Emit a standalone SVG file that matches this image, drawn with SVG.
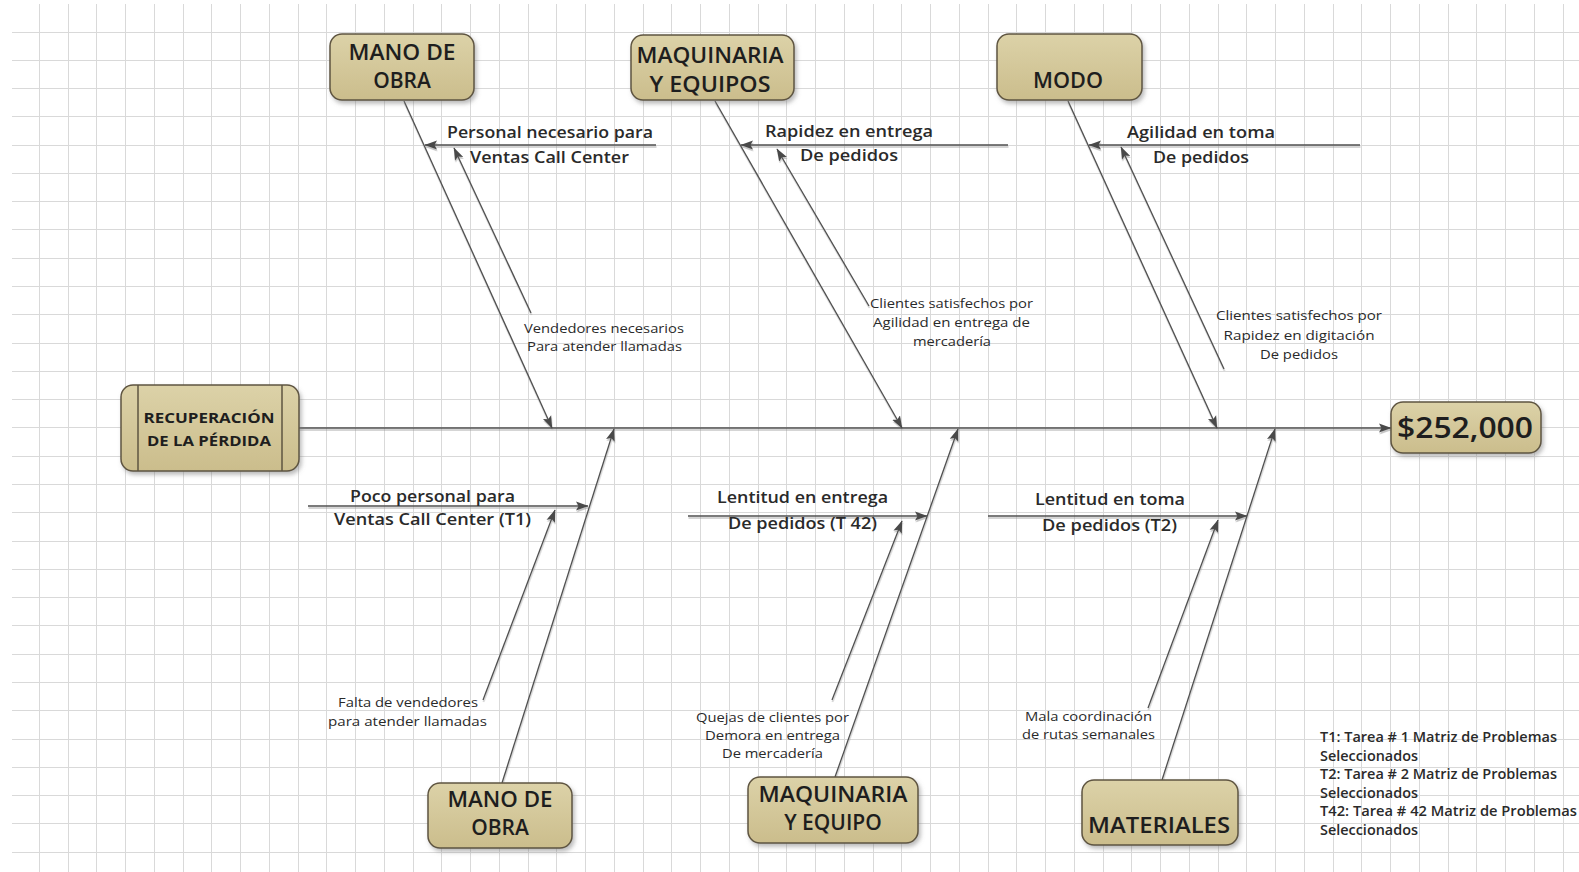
<svg xmlns="http://www.w3.org/2000/svg" width="1579" height="872" viewBox="0 0 1579 872">
<style>
.box{fill:url(#tan);stroke:#5e5440;stroke-width:1.5;filter:url(#bs)}
.bt{font-family:"Open Sans","Liberation Sans",sans-serif;font-weight:600;font-size:21px;fill:#1e1e1e;text-anchor:middle}
.ht{font-family:"Open Sans","Liberation Sans",sans-serif;font-weight:700;font-size:14.5px;fill:#1e1e1e;text-anchor:middle}
.mt{font-family:"Open Sans","Liberation Sans",sans-serif;font-weight:600;font-size:28px;fill:#1e1e1e;text-anchor:middle}
.ml{font-family:"Open Sans","Liberation Sans",sans-serif;font-weight:600;font-size:16px;fill:#2a2a2a;text-anchor:middle}
.sl{font-family:"Open Sans","Liberation Sans",sans-serif;font-weight:400;font-size:13px;fill:#2a2a2a;text-anchor:middle}
.lg{font-family:"Open Sans","Liberation Sans",sans-serif;font-weight:600;font-size:13.5px;fill:#2a2a2a}
.ln{stroke:#505050;stroke-width:1.3;fill:none;marker-end:url(#ah)}
.grid{stroke:#d9d9d9;stroke-width:1;fill:none}
</style>
<defs>
<linearGradient id="tan" x1="0" y1="0" x2="0" y2="1">
<stop offset="0" stop-color="#dcd2a8"/>
<stop offset="1" stop-color="#cbbd8c"/>
</linearGradient>
<filter id="bs" x="-10%" y="-10%" width="130%" height="140%">
<feDropShadow dx="2" dy="3" stdDeviation="2" flood-color="#777" flood-opacity="0.5"/>
</filter>
<filter id="ls" x="-5%" y="-5%" width="110%" height="110%">
<feDropShadow dx="0.5" dy="2" stdDeviation="0.6" flood-color="#999" flood-opacity="0.55"/>
</filter>
<marker id="ah" markerUnits="userSpaceOnUse" markerWidth="13" markerHeight="10" viewBox="0 0 13 10" refX="12" refY="5" orient="auto">
<path d="M0,0.5 L12.5,5 L0,9.5 L2.5,5 z" fill="#4a4a4a"/>
</marker>
</defs>
<rect x="0" y="0" width="1579" height="872" fill="#ffffff"/>
<g id="grid">
<path class="grid" d="M39.5 4V872M68.5 4V872M96.5 4V872M125.5 4V872M154.5 4V872M183.5 4V872M211.5 4V872M240.5 4V872M269.5 4V872M298.5 4V872M326.5 4V872M355.5 4V872M384.5 4V872M413.5 4V872M441.5 4V872M470.5 4V872M499.5 4V872M528.5 4V872M556.5 4V872M585.5 4V872M614.5 4V872M643.5 4V872M671.5 4V872M700.5 4V872M729.5 4V872M758.5 4V872M786.5 4V872M815.5 4V872M844.5 4V872M873.5 4V872M901.5 4V872M930.5 4V872M959.5 4V872M988.5 4V872M1016.5 4V872M1045.5 4V872M1074.5 4V872M1103.5 4V872M1131.5 4V872M1160.5 4V872M1189.5 4V872M1218.5 4V872M1246.5 4V872M1275.5 4V872M1304.5 4V872M1333.5 4V872M1361.5 4V872M1390.5 4V872M1419.5 4V872M1448.5 4V872M1476.5 4V872M1505.5 4V872M1534.5 4V872M1563.5 4V872"/>
<path class="grid" d="M12 32.5H1579M12 60.5H1579M12 88.5H1579M12 116.5H1579M12 145.5H1579M12 173.5H1579M12 201.5H1579M12 229.5H1579M12 258.5H1579M12 286.5H1579M12 314.5H1579M12 343.5H1579M12 371.5H1579M12 399.5H1579M12 427.5H1579M12 456.5H1579M12 484.5H1579M12 512.5H1579M12 541.5H1579M12 569.5H1579M12 597.5H1579M12 625.5H1579M12 654.5H1579M12 682.5H1579M12 710.5H1579M12 739.5H1579M12 767.5H1579M12 795.5H1579M12 823.5H1579M12 852.5H1579"/>
</g>
<g id="connectors" filter="url(#ls)">
<line class="ln" x1="299" y1="428" x2="1391" y2="428"/>
<line class="ln" x1="404" y1="101" x2="552" y2="428"/>
<line class="ln" x1="715" y1="101" x2="902" y2="428"/>
<line class="ln" x1="1068" y1="101" x2="1217" y2="428"/>
<line class="ln" x1="502" y1="783" x2="614" y2="429"/>
<line class="ln" x1="835" y1="777" x2="958" y2="429"/>
<line class="ln" x1="1162" y1="780" x2="1275" y2="429"/>
<line class="ln" x1="656" y1="145" x2="425" y2="145"/>
<line class="ln" x1="1008" y1="145" x2="741" y2="145"/>
<line class="ln" x1="1360" y1="145" x2="1089" y2="145"/>
<line class="ln" x1="308" y1="506" x2="588" y2="506"/>
<line class="ln" x1="688" y1="516" x2="927" y2="516"/>
<line class="ln" x1="988" y1="516" x2="1247" y2="516"/>
<line class="ln" x1="531" y1="313" x2="454" y2="148"/>
<line class="ln" x1="869" y1="306" x2="777" y2="149"/>
<line class="ln" x1="1224" y1="369" x2="1121" y2="147"/>
<line class="ln" x1="483" y1="700" x2="555" y2="510"/>
<line class="ln" x1="832" y1="700" x2="902" y2="521"/>
<line class="ln" x1="1148" y1="708" x2="1218" y2="520"/>
</g>
<g id="head-left">
<rect class="box" x="121" y="385" width="178" height="86" rx="12"/>
<line x1="138" y1="385" x2="138" y2="471" stroke="#5e5440" stroke-width="1.5"/>
<line x1="282" y1="385" x2="282" y2="471" stroke="#5e5440" stroke-width="1.5"/>
<text class="ht" x="209" y="423" textLength="131" lengthAdjust="spacingAndGlyphs">RECUPERACIÓN</text>
<text class="ht" x="209" y="446" textLength="124" lengthAdjust="spacingAndGlyphs">DE LA PÉRDIDA</text>
</g>
<g id="head-right">
<rect class="box" x="1391" y="402" width="150" height="51" rx="12"/>
<text class="mt" x="1465" y="438" textLength="136" lengthAdjust="spacingAndGlyphs">$252,000</text>
</g>
<g id="mano-obra-top">
<rect class="box" x="330" y="34" width="144" height="66" rx="12"/>
<text class="bt" x="402" y="60" textLength="107" lengthAdjust="spacingAndGlyphs">MANO DE</text>
<text class="bt" x="402" y="88">OBRA</text>
</g>
<g id="maquinaria-top">
<rect class="box" x="631" y="35" width="163" height="65" rx="12"/>
<text class="bt" x="710" y="63" textLength="147" lengthAdjust="spacingAndGlyphs">MAQUINARIA</text>
<text class="bt" x="710" y="92" textLength="121" lengthAdjust="spacingAndGlyphs">Y EQUIPOS</text>
</g>
<g id="modo">
<rect class="box" x="997" y="34" width="145" height="66" rx="12"/>
<text class="bt" x="1068" y="88" textLength="70" lengthAdjust="spacingAndGlyphs">MODO</text>
</g>
<g id="mano-obra-bottom">
<rect class="box" x="428" y="783" width="144" height="65" rx="12"/>
<text class="bt" x="500" y="807" textLength="105" lengthAdjust="spacingAndGlyphs">MANO DE</text>
<text class="bt" x="500" y="835">OBRA</text>
</g>
<g id="maquinaria-bottom">
<rect class="box" x="748" y="777" width="170" height="66" rx="12"/>
<text class="bt" x="833" y="802" textLength="149" lengthAdjust="spacingAndGlyphs">MAQUINARIA</text>
<text class="bt" x="833" y="830">Y EQUIPO</text>
</g>
<g id="materiales">
<rect class="box" x="1082" y="780" width="156" height="65" rx="12"/>
<text class="bt" x="1159" y="833" textLength="142" lengthAdjust="spacingAndGlyphs">MATERIALES</text>
</g>
<g id="labels-top">
<text class="ml" x="550" y="138" textLength="206" lengthAdjust="spacingAndGlyphs">Personal necesario para</text>
<text class="ml" x="549.5" y="163" textLength="159" lengthAdjust="spacingAndGlyphs">Ventas Call Center</text>
<text class="ml" x="849" y="137" textLength="168" lengthAdjust="spacingAndGlyphs">Rapidez en entrega</text>
<text class="ml" x="849" y="161" textLength="98" lengthAdjust="spacingAndGlyphs">De pedidos</text>
<text class="ml" x="1201" y="138" textLength="148" lengthAdjust="spacingAndGlyphs">Agilidad en toma</text>
<text class="ml" x="1201" y="163" textLength="96" lengthAdjust="spacingAndGlyphs">De pedidos</text>
<text class="sl" x="604" y="333" textLength="160" lengthAdjust="spacingAndGlyphs">Vendedores necesarios</text>
<text class="sl" x="604.5" y="351" textLength="155" lengthAdjust="spacingAndGlyphs">Para atender llamadas</text>
<text class="sl" x="951.5" y="308" textLength="163" lengthAdjust="spacingAndGlyphs">Clientes satisfechos por</text>
<text class="sl" x="951.5" y="327" textLength="157" lengthAdjust="spacingAndGlyphs">Agilidad en entrega de</text>
<text class="sl" x="952" y="346" textLength="78" lengthAdjust="spacingAndGlyphs">mercadería</text>
<text class="sl" x="1299" y="320" textLength="166" lengthAdjust="spacingAndGlyphs">Clientes satisfechos por</text>
<text class="sl" x="1299" y="340" textLength="151" lengthAdjust="spacingAndGlyphs">Rapidez en digitación</text>
<text class="sl" x="1299" y="359" textLength="78" lengthAdjust="spacingAndGlyphs">De pedidos</text>
</g>
<g id="labels-bottom">
<text class="ml" x="432.5" y="502" textLength="165" lengthAdjust="spacingAndGlyphs">Poco personal para</text>
<text class="ml" x="432.5" y="525" textLength="197" lengthAdjust="spacingAndGlyphs">Ventas Call Center (T1)</text>
<text class="ml" x="802.5" y="503" textLength="171" lengthAdjust="spacingAndGlyphs">Lentitud en entrega</text>
<text class="ml" x="802.5" y="529" textLength="149" lengthAdjust="spacingAndGlyphs">De pedidos (T 42)</text>
<text class="ml" x="1110" y="505" textLength="150" lengthAdjust="spacingAndGlyphs">Lentitud en toma</text>
<text class="ml" x="1109.5" y="531" textLength="135" lengthAdjust="spacingAndGlyphs">De pedidos (T2)</text>
<text class="sl" x="408" y="707" textLength="140" lengthAdjust="spacingAndGlyphs">Falta de vendedores</text>
<text class="sl" x="407.5" y="726" textLength="159" lengthAdjust="spacingAndGlyphs">para atender  llamadas</text>
<text class="sl" x="772.5" y="722" textLength="153" lengthAdjust="spacingAndGlyphs">Quejas de clientes por</text>
<text class="sl" x="772.5" y="740" textLength="135" lengthAdjust="spacingAndGlyphs">Demora en entrega</text>
<text class="sl" x="772.5" y="758" textLength="101" lengthAdjust="spacingAndGlyphs">De mercadería</text>
<text class="sl" x="1088.5" y="721" textLength="127" lengthAdjust="spacingAndGlyphs">Mala coordinación</text>
<text class="sl" x="1088.5" y="739" textLength="133" lengthAdjust="spacingAndGlyphs">de rutas semanales</text>
</g>
<g id="legend">
<text class="lg" x="1320" y="742" textLength="237" lengthAdjust="spacingAndGlyphs">T1: Tarea # 1 Matriz de Problemas</text>
<text class="lg" x="1320" y="761" textLength="98" lengthAdjust="spacingAndGlyphs">Seleccionados</text>
<text class="lg" x="1320" y="779" textLength="237" lengthAdjust="spacingAndGlyphs">T2: Tarea # 2 Matriz de Problemas</text>
<text class="lg" x="1320" y="798" textLength="98" lengthAdjust="spacingAndGlyphs">Seleccionados</text>
<text class="lg" x="1320" y="816" textLength="257" lengthAdjust="spacingAndGlyphs">T42: Tarea # 42 Matriz de Problemas</text>
<text class="lg" x="1320" y="835" textLength="98" lengthAdjust="spacingAndGlyphs">Seleccionados</text>
</g>
</svg>
